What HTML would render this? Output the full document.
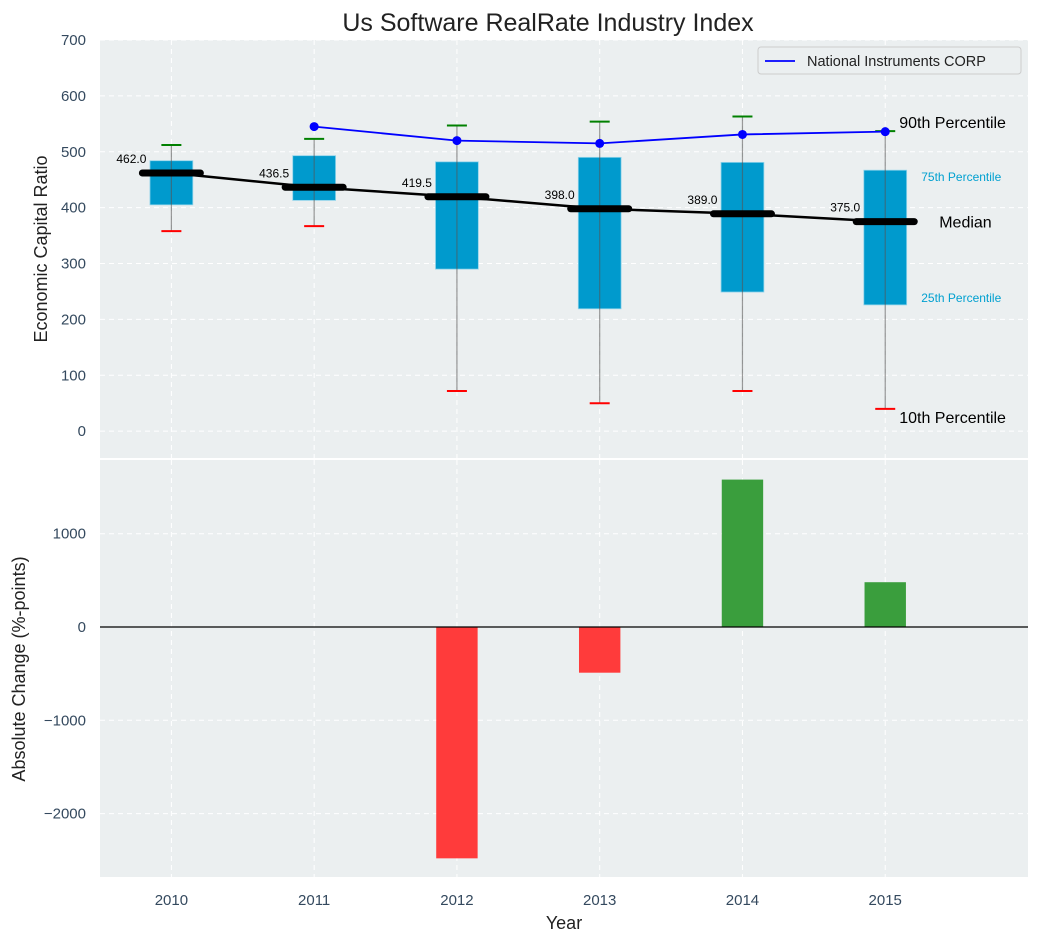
<!DOCTYPE html>
<html><head><meta charset="utf-8"><style>
body{margin:0;background:#fff;}
svg text{font-family:"Liberation Sans","DejaVu Sans",sans-serif;}
</style></head><body>
<svg id="chart" width="1039" height="942" xmlns="http://www.w3.org/2000/svg"></svg>
<script>
const years=[2010,2011,2012,2013,2014,2015];
const p10=[358,367,72,50,72,40];
const q1=[405,413,290,219,249,226];
const median=[462.0,436.5,419.5,398.0,389.0,375.0];
const q3=[484,493,482,490,481,467];
const p90=[512,523,547,554,563,537];
const niYears=[2011,2012,2013,2014,2015];
const niValues=[545,520,515,531,536];
const changeYears=[2012,2013,2014,2015];
const changeValues=[-2480,-490,1580,480];
const topTicks=[0,100,200,300,400,500,600,700];
const botTicks=[-2000,-1000,0,1000];

const NS="http://www.w3.org/2000/svg";
const svg=document.getElementById('chart');
function el(tag,attrs,parent){const e=document.createElementNS(NS,tag);for(const k in attrs)e.setAttribute(k,attrs[k]);(parent||svg).appendChild(e);return e;}
const L=100,R=1028;
const x=v=>L+(v-2009.5)/(2016-2009.5)*(R-L);
const T0=40,T1=458; const yT=v=>T0+(700-v)/(700-(-48))*(T1-T0);
const B0=460,B1=877; const yB=v=>B0+(1790-v)/(1790-(-2680))*(B1-B0);

let t=el('text',{x:548,y:31,'font-size':25,'text-anchor':'middle',fill:'#222'});t.textContent='Us Software RealRate Industry Index';



let bg=el('rect',{x:L,y:T0,width:R-L,height:T1-T0,fill:'#ebeff0'});


topTicks.forEach(v=>{
  el('line',{x1:L,x2:R,y1:yT(v),y2:yT(v),stroke:'#fff','stroke-dasharray':'5,4','stroke-width':1});
  const tt=el('text',{x:86,y:yT(v)+5,'font-size':15,'text-anchor':'end',fill:'#34495e'});tt.textContent=v;
  
  
});
years.forEach(yr=>{el('line',{x1:x(yr),x2:x(yr),y1:T0,y2:T1,stroke:'#fff','stroke-dasharray':'5,4'});});
const bw=0.3*(R-L)/6.5;
years.forEach((yr,i)=>{
  const b=el('rect',{x:x(yr)-bw/2,y:yT(q3[i]),width:bw,height:yT(q1[i])-yT(q3[i]),fill:'#009acd',stroke:'#8fd3ea','stroke-width':0.8});
  
  
  el('line',{x1:x(yr),x2:x(yr),y1:yT(p10[i]),y2:yT(p90[i]),stroke:'#555','stroke-opacity':0.6,'stroke-width':1.2});
  el('line',{x1:x(yr)-10,x2:x(yr)+10,y1:yT(p90[i]),y2:yT(p90[i]),stroke:'green','stroke-width':2});
  el('line',{x1:x(yr)-10,x2:x(yr)+10,y1:yT(p10[i]),y2:yT(p10[i]),stroke:'red','stroke-width':2});
});
el('polyline',{points:years.map((yr,i)=>x(yr)+','+yT(median[i])).join(' '),fill:'none',stroke:'#000','stroke-width':2.5});
years.forEach((yr,i)=>{
  const m=el('line',{x1:x(yr)-29,x2:x(yr)+29,y1:yT(median[i]),y2:yT(median[i]),stroke:'#000','stroke-width':7,'stroke-linecap':'round'});
  
  
  const ml=el('text',{x:x(yr)-25,y:yT(median[i])-10,'font-size':12,'text-anchor':'end',fill:'#000'});ml.textContent=median[i].toFixed(1);
  
  
});
const ni=el('polyline',{points:niYears.map((yr,i)=>x(yr)+','+yT(niValues[i])).join(' '),fill:'none',stroke:'#0000ff','stroke-width':1.8});


niYears.forEach((yr,i)=>el('circle',{cx:x(yr),cy:yT(niValues[i]),r:4.5,fill:'#0000ff'}));
const last=years.length-1, lx=x(years[last]);
[['90th Percentile',lx+14,yT(p90[last])-3,16,'#000'],['75th Percentile',lx+36,yT(q3[last])+11,12,'#00a0d0'],['Median',lx+54,yT(median[last])+6,16,'#000'],['25th Percentile',lx+36,yT(q1[last])-3,12,'#00a0d0'],['10th Percentile',lx+14,yT(p10[last])+14,16,'#000']].forEach(a=>{
  const tx=el('text',{x:a[1],y:a[2],'font-size':a[3],fill:a[4]});tx.textContent=a[0];
  
  
});
const lg=el('g',{});


el('rect',{x:758,y:47,width:263,height:27,fill:'#ebeff0',stroke:'#ccc',rx:3},lg);
el('line',{x1:765,x2:795,y1:61,y2:61,stroke:'#0000ff','stroke-width':1.8},lg);
const lt=el('text',{x:807,y:66,'font-size':14.5,fill:'#222'},lg);lt.textContent='National Instruments CORP';
const yl=el('text',{x:47,y:249,'font-size':18,'text-anchor':'middle',fill:'#222',transform:'rotate(-90 47 249)'});yl.textContent='Economic Capital Ratio';



const bg2=el('rect',{x:L,y:B0,width:R-L,height:B1-B0,fill:'#ebeff0'});


botTicks.forEach(v=>{
  el('line',{x1:L,x2:R,y1:yB(v),y2:yB(v),stroke:'#fff','stroke-dasharray':'5,4'});
  const tt=el('text',{x:86,y:yB(v)+5,'font-size':15,'text-anchor':'end',fill:'#34495e'});tt.textContent=v<0?'\u2212'+(-v):v;
  
  
});
years.forEach(yr=>{el('line',{x1:x(yr),x2:x(yr),y1:B0,y2:B1,stroke:'#fff','stroke-dasharray':'5,4'});
  const tt=el('text',{x:x(yr),y:905,'font-size':15,'text-anchor':'middle',fill:'#34495e'});tt.textContent=yr;
  
  
});
const bbw=0.29*(R-L)/6.5;
changeYears.forEach((yr,i)=>{
  const v=changeValues[i];
  const r=el('rect',{x:x(yr)-bbw/2,y:Math.min(yB(v),yB(0)),width:bbw,height:Math.abs(yB(v)-yB(0)),fill:v<0?'#ff3b3b':'#3a9e3d'});
  
  
});
el('line',{x1:L,x2:R,y1:yB(0),y2:yB(0),stroke:'#000','stroke-width':1.2});
const yl2=el('text',{x:25,y:669,'font-size':18,'text-anchor':'middle',fill:'#222',transform:'rotate(-90 25 669)'});yl2.textContent='Absolute Change (%-points)';


const xl=el('text',{x:564,y:929,'font-size':18,'text-anchor':'middle',fill:'#222'});xl.textContent='Year';


</script>
</body></html>
